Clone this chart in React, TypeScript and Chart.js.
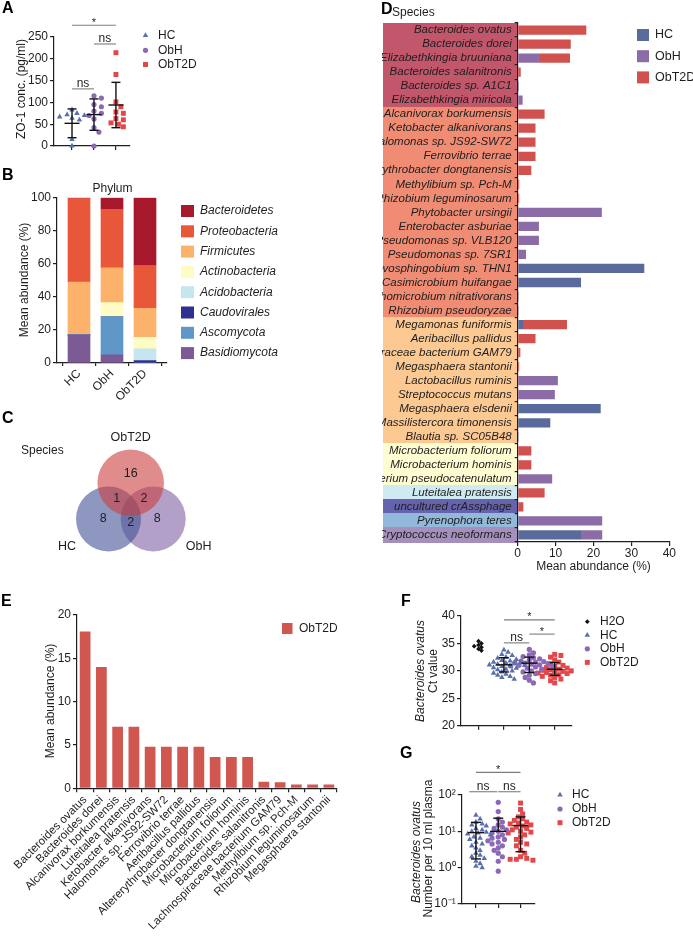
import React, { useEffect, useRef } from 'react';
import { Chart, registerables } from 'chart.js';

Chart.register(...registerables);

const FF = '"Liberation Sans", Arial, Helvetica, sans-serif';
const INK = '#1e1e1e';
const SIG = '#7d7d7d';

const COLORS: Record<string, string> = { H2O: '#111111', HC: '#5b6fae', ObH: '#8b69b6', ObT2D: '#e2474b' };
const SHAPES: Record<string, string> = { H2O: 'rectRot', HC: 'triangle', ObH: 'circle', ObT2D: 'rect' };
const RADII: Record<string, number> = { H2O: 2.4, HC: 3.2, ObH: 2.6, ObT2D: 3.5 };

// ---------------- Panel A ----------------
const aGroups = ['HC', 'ObH', 'ObT2D'];
const aHC = [0, 15, 60, 64, 67, 70, 72, 75, 83];
const aObH = [0, 32, 42, 62, 70, 75, 80, 90, 95, 110, 115];
const aObT2D = [44, 50, 53, 60, 63, 75, 78, 90, 101, 164, 214];
const aMean = [52, 72, 94];
const aLow = [19, 36, 42];
const aHigh = [85, 108, 146];
const aSig = [
  { from: 0, to: 2, y: 277, label: '*' },
  { from: 1, to: 2, y: 234, label: 'ns' },
  { from: 0, to: 1, y: 131, label: 'ns' },
];

// ---------------- Panel B ----------------
const bGroups = ['HC', 'ObH', 'ObT2D'];
const phyla = ['Bacteroidetes', 'Proteobacteria', 'Firmicutes', 'Actinobacteria', 'Acidobacteria', 'Caudovirales', 'Ascomycota', 'Basidiomycota'];
const phylaColors = ['#a8182c', '#e9573b', '#fcb26a', '#fefcc4', '#c5e5ef', '#2e3192', '#5e97c8', '#7b5a96'];
const phylaBand = ['#c2566b', '#f08c74', '#fdc993', '#fefdd2', '#d0eaf2', '#6563ad', '#92b8da', '#a58fbd'];
const bBacteroidetes = [0.5, 7, 41];
const bProteobacteria = [50.5, 35.5, 26];
const bFirmicutes = [32, 21, 17.5];
const bActinobacteria = [0, 8.5, 7];
const bAcidobacteria = [0, 0, 7];
const bCaudovirales = [0, 0, 1.5];
const bAscomycota = [0, 23, 0];
const bBasidiomycota = [17, 5, 0];
const bValues = [bBacteroidetes, bProteobacteria, bFirmicutes, bActinobacteria, bAcidobacteria, bCaudovirales, bAscomycota, bBasidiomycota];

// ---------------- Panel C ----------------
const vennSets = ['ObT2D', 'HC', 'ObH'];
const vennColors = ['rgba(203,63,63,0.6)', 'rgba(65,82,150,0.6)', 'rgba(128,97,165,0.6)'];
const vennX = [130.7, 108.5, 153.2];
const vennY = [102.7, 139, 139];
const vennR = [33.3, 32.5, 32.5];
const vennCounts = ['16', '8', '8', '1', '2', '2'];
const vennCountX = [130.7, 103.3, 157.3, 116.7, 144, 130.7];
const vennCountY = [93.3, 138.3, 138.3, 118.3, 118.3, 142.3];

// ---------------- Panel D ----------------
const dSpecies = [
  'Bacteroides ovatus', 'Bacteroides dorei', 'Elizabethkingia bruuniana', 'Bacteroides salanitronis', 'Bacteroides sp. A1C1', 'Elizabethkingia miricola',
  'Alcanivorax borkumensis', 'Ketobacter alkanivorans', 'Halomonas sp. JS92-SW72', 'Ferrovibrio terrae', 'Altererythrobacter dongtanensis', 'Methylibium sp. Pch-M',
  'Rhizobium leguminosarum', 'Phytobacter ursingii', 'Enterobacter asburiae', 'Pseudomonas sp. VLB120', 'Pseudomonas sp. 7SR1', 'Novosphingobium sp. THN1',
  'Casimicrobium huifangae', 'Hyphomicrobium nitrativorans', 'Rhizobium pseudoryzae',
  'Megamonas funiformis', 'Aeribacillus pallidus', 'Lachnospiraceae bacterium GAM79', 'Megasphaera stantonii', 'Lactobacillus ruminis', 'Streptococcus mutans',
  'Megasphaera elsdenii', 'Massilistercora timonensis', 'Blautia sp. SC05B48',
  'Microbacterium foliorum', 'Microbacterium hominis', 'Bifidobacterium pseudocatenulatum',
  'Luteitalea pratensis', 'uncultured crAssphage', 'Pyrenophora teres', 'Cryptococcus neoformans',
];
const dPhylum = [
  0, 0, 0, 0, 0, 0,
  1, 1, 1, 1, 1, 1, 1, 1, 1, 1, 1, 1, 1, 1, 1,
  2, 2, 2, 2, 2, 2, 2, 2, 2,
  3, 3, 3,
  4, 5, 6, 7,
];
const dHC = [0, 0, 0, 0, 0.3, 0, 0, 0, 0, 0, 0, 0, 0, 0, 0, 0, 0, 33.4, 16.7, 0.25, 0.25, 1.4, 0, 0, 0, 0, 0, 21.9, 8.6, 0.25, 0, 0, 0, 0, 0, 0, 16.7];
const dObH = [0, 0, 5.6, 0, 0, 1.3, 0, 0, 0, 0, 0, 0, 0, 22.2, 5.6, 5.6, 2.2, 0, 0, 0, 0, 0, 0, 0, 0, 10.6, 9.8, 0, 0, 0, 0, 0, 9.1, 0, 0, 22.3, 5.6];
const dObT2D = [18.1, 14.0, 8.2, 0.8, 0, 0, 7.1, 4.7, 4.7, 4.7, 3.6, 0.4, 0.4, 0, 0, 0, 0, 0, 0, 0, 0, 11.6, 4.7, 0.7, 0.4, 0, 0, 0, 0, 0, 3.6, 3.6, 0, 7.1, 1.5, 0, 0];
const dGroups = ['HC', 'ObH', 'ObT2D'];
const dColors = ['#5a6a9c', '#8b6ca7', '#d0514e'];
const dTicks = [0, 10, 20, 30, 40];

// ---------------- Panel E ----------------
const eSpecies = [
  'Bacteroides ovatus', 'Bacteroides dorei', 'Alcanivorax borkumensis', 'Luteitalea pratensis', 'Ketobacter alkanivorans', 'Halomonas sp. JS92-SW72',
  'Ferrovibrio terrae', 'Aeribacillus pallidus', 'Altererythrobacter dongtanensis', 'Microbacterium foliorum', 'Microbacterium hominis',
  'Bacteroides salanitronis', 'Lachnospiraceae bacterium GAM79', 'Methylibium sp. Pch-M', 'Rhizobium leguminosarum', 'Megasphaera stantonii',
];
const eValues = [18.1, 14.0, 7.1, 7.1, 4.8, 4.8, 4.8, 4.8, 3.6, 3.6, 3.6, 0.76, 0.7, 0.45, 0.45, 0.45];

// ---------------- Panel F ----------------
const fGroups = ['H2O', 'HC', 'ObH', 'ObT2D'];
const fH2O = [35.4, 35.0, 34.7, 34.5, 34.3, 34.0, 33.7];
const fHC = [33.8, 33.4, 33.0, 32.8, 32.5, 32.3, 32.1, 31.9, 31.8, 31.6, 31.5, 31.4, 31.3, 31.2, 31.1, 31.0, 30.9, 30.8, 30.6, 30.5, 30.3, 30.2, 30.0, 29.8, 29.6, 29.4, 29.2, 29.0, 28.8, 28.5];
const fObH = [33.9, 33.3, 32.9, 32.6, 32.4, 32.2, 32.0, 31.8, 31.7, 31.6, 31.5, 31.4, 31.3, 31.2, 31.1, 31.0, 30.9, 30.8, 30.7, 30.5, 30.3, 30.0, 29.8, 29.5, 29.2, 28.8, 28.3, 27.8];
const fObT2D = [33.0, 32.8, 32.5, 32.0, 31.6, 31.3, 31.0, 30.8, 30.6, 30.5, 30.3, 30.2, 30.1, 30.0, 29.9, 29.8, 29.7, 29.6, 29.5, 29.3, 29.2, 29.0, 28.8, 28.5, 28.2, 27.8];
const fMean = [null, 31.1, 31.4, 30.3];
const fLow = [null, 29.8, 29.7, 29.2];
const fHigh = [null, 32.4, 32.5, 31.5];
const fSig = [
  { from: 1, to: 3, y: 39.3, label: '*' },
  { from: 2, to: 3, y: 36.7, label: '*' },
  { from: 1, to: 2, y: 35.1, label: 'ns' },
];

// ---------------- Panel G ----------------
const gGroups = ['HC', 'ObH', 'ObT2D'];
const gHC = [28, 22, 18, 16, 15, 14, 12, 11, 10, 9.5, 9, 8.5, 8, 7, 6.5, 6, 5, 4.5, 4, 3.5, 3, 2.5, 2.2, 2, 1.8, 1.5, 1.3, 1.1, 1.0];
const gObH = [63, 35, 22, 18, 15, 13, 12, 11, 10, 9, 8, 7, 6.5, 6, 5.5, 5, 4.5, 4, 3.5, 3, 2.5, 2, 1.5, 0.8];
const gObT2D = [60, 40, 30, 25, 22, 20, 18, 17, 16, 15, 14, 13, 12, 11, 10, 9.5, 9, 8, 7, 6, 5, 4.5, 4, 3, 2.5, 2, 1.8, 1.7, 1.7, 1.6];
const gMean = [9.2, 10, 14.4];
const gLow = [1.74, null, 2.75];
const gHigh = [17.7, 23, 25];
const gSig = [
  { from: 0, to: 2, y: 420, label: '*' },
  { from: -0.3, to: 0.95, y: 123, label: 'ns' },
  { from: 1, to: 2, y: 123, label: 'ns' },
];
const gTickLabels = ['10\u207B\u00B9', '10\u2070', '10\u00B9', '10\u00B2'];

// ================= helpers =================
type Box = { l: number; t: number; w: number; h: number };
type Area = { l: number; t: number; r: number; b: number };

const padFor = (box: Box, area: Area) => ({ left: 0, top: area.t - box.t, right: box.l + box.w - area.r, bottom: 0 });
const fixW = (box: Box, area: Area) => (s: any) => { s.width = area.l - box.l; };
const fixH = (box: Box, area: Area) => (s: any) => { s.height = box.t + box.h - area.b; };
const axisGrid = (tl: number) => ({ display: true, drawOnChartArea: false, drawTicks: true, tickLength: tl, color: INK, lineWidth: 1.2 });
const axisBorder = { display: true, color: INK, width: 1.2 };
const fnt = (size = 12, style = 'normal') => ({ family: FF, size, style, lineHeight: 1.15 });

function T(ctx: CanvasRenderingContext2D, s: string, x: number, y: number, size: number, o: any = {}) {
  ctx.save();
  ctx.font = `${o.italic ? 'italic ' : ''}${o.bold ? 'bold ' : ''}${size}px ${FF}`;
  ctx.fillStyle = o.color || INK;
  ctx.textAlign = o.align || 'left';
  ctx.textBaseline = o.baseline || 'middle';
  ctx.translate(x, y);
  if (o.rot) ctx.rotate(o.rot);
  ctx.fillText(s, 0, 0);
  ctx.restore();
}

function shape(ctx: CanvasRenderingContext2D, style: string, x: number, y: number, r: number, color: string) {
  ctx.save();
  ctx.fillStyle = color;
  ctx.beginPath();
  if (style === 'circle') ctx.arc(x, y, r, 0, Math.PI * 2);
  else if (style === 'triangle') {
    ctx.moveTo(x, y - r); ctx.lineTo(x + 0.866 * r, y + 0.5 * r); ctx.lineTo(x - 0.866 * r, y + 0.5 * r); ctx.closePath();
  } else if (style === 'rect') {
    const s = r * Math.SQRT1_2; ctx.rect(x - s, y - s, 2 * s, 2 * s);
  } else {
    ctx.moveTo(x, y - r); ctx.lineTo(x + r, y); ctx.lineTo(x, y + r); ctx.lineTo(x - r, y); ctx.closePath();
  }
  ctx.fill();
  ctx.restore();
}

function seg(ctx: CanvasRenderingContext2D, x1: number, y1: number, x2: number, y2: number) {
  ctx.beginPath(); ctx.moveTo(x1, y1); ctx.lineTo(x2, y2); ctx.stroke();
}

// beeswarm layout: horizontal offsets (in category units) so markers don't overlap
function swarm(vals: number[], pxOf: (v: number) => number, pxPerCat: number, d: number): number[] {
  const order = vals.map((_, i) => i).sort((a, b) => pxOf(vals[a]) - pxOf(vals[b]));
  const placed: [number, number][] = [];
  const out = new Array(vals.length).fill(0);
  for (const i of order) {
    const y = pxOf(vals[i]);
    let x = 0;
    for (let k = 0; k < 80; k++) {
      const cand = k === 0 ? 0 : (k % 2 ? 1 : -1) * Math.ceil(k / 2) * d * 0.45;
      if (placed.every(([px, py]) => Math.hypot(px - cand, py - y) >= d)) { x = cand; break; }
    }
    placed.push([x, y]);
    out[i] = x / pxPerCat;
  }
  return out;
}

function legendMarkers(ctx: CanvasRenderingContext2D, groups: string[], mx: number, tx: number, ys: number[]) {
  groups.forEach((g, i) => {
    shape(ctx, SHAPES[g], mx, ys[i], RADII[g], COLORS[g]);
    T(ctx, g, tx, ys[i], 12);
  });
}

function scatterCfg(p: any) {
  const { box, area, groups, values, xMin, xMax, yOpts, pxOf, pxPerCat, d, mean, low, high, sig, capW, meanW, extra } = p;
  const offs = values.map((v: number[], gi: number) => swarm(v, pxOf, pxPerCat, groups[gi] === 'H2O' ? 3.2 : d));
  return {
    type: 'scatter',
    data: {
      datasets: groups.map((g: string, gi: number) => ({
        label: g,
        data: values[gi].map((v: number, k: number) => ({ x: gi + offs[gi][k], y: v })),
        pointStyle: SHAPES[g],
        pointRadius: RADII[g],
        pointHoverRadius: RADII[g],
        backgroundColor: COLORS[g],
        borderWidth: 0,
        clip: false,
      })),
    },
    options: {
      responsive: false, animation: false, devicePixelRatio: 1, events: [],
      layout: { padding: padFor(box, area), autoPadding: false },
      plugins: { legend: { display: false }, tooltip: { enabled: false } },
      scales: {
        x: {
          type: 'linear', min: xMin, max: xMax,
          afterFit: fixH(box, area),
          afterBuildTicks: (s: any) => { s.ticks = groups.map((_: string, i: number) => ({ value: i })); },
          ticks: { callback: () => '', autoSkip: false, font: fnt(12) },
          grid: axisGrid(4), border: axisBorder,
        },
        y: {
          ...yOpts,
          afterFit: fixW(box, area),
          grid: axisGrid(4), border: axisBorder,
        },
      },
    },
    plugins: [{
      id: 'overlay',
      afterDatasetsDraw(chart: any) {
        const ctx = chart.ctx as CanvasRenderingContext2D;
        const x = chart.scales.x, y = chart.scales.y;
        ctx.save();
        ctx.strokeStyle = '#111'; ctx.lineWidth = 1.4;
        groups.forEach((_: string, gi: number) => {
          if (mean[gi] == null) return;
          const cx = x.getPixelForValue(gi);
          const my = y.getPixelForValue(mean[gi]);
          const hy = y.getPixelForValue(high[gi]);
          const ly = low[gi] != null ? y.getPixelForValue(low[gi]) : my;
          seg(ctx, cx - meanW, my, cx + meanW, my);
          seg(ctx, cx, hy, cx, ly);
          seg(ctx, cx - capW, hy, cx + capW, hy);
          if (low[gi] != null) seg(ctx, cx - capW, ly, cx + capW, ly);
        });
        ctx.strokeStyle = SIG; ctx.lineWidth = 1.1;
        sig.forEach((s: any) => {
          const x1 = x.getPixelForValue(s.from), x2 = x.getPixelForValue(s.to), yy = y.getPixelForValue(s.y);
          seg(ctx, x1, yy, x2, yy);
          if (s.label === '*') T(ctx, '*', (x1 + x2) / 2, yy + 0.5, 11, { align: 'center', baseline: 'alphabetic' });
          else T(ctx, s.label, (x1 + x2) / 2, yy - 2, 12, { align: 'center', baseline: 'alphabetic' });
        });
        ctx.translate(-box.l, -box.t);
        extra(ctx);
        ctx.restore();
      },
    }],
  };
}

// ================= configs =================
function cfgA() {
  const box = { l: 0, t: 0, w: 230, h: 165 };
  const area = { l: 54, t: 37, r: 130, b: 146 };
  return scatterCfg({
    box, area, groups: aGroups, values: [aHC, aObH, aObT2D], xMin: -0.82, xMax: 2.64,
    yOpts: { type: 'linear', min: 0, max: 250, ticks: { stepSize: 50, font: fnt(12), color: INK, padding: 2 } },
    pxOf: (v: number) => -v * 109 / 250, pxPerCat: 22, d: 5.5,
    mean: aMean, low: aLow, high: aHigh, sig: aSig, capW: 4.5, meanW: 7.5,
    extra: (ctx: CanvasRenderingContext2D) => {
      T(ctx, 'ZO-1 conc. (pg/ml)', 21.5, 89, 12, { align: 'center', rot: -Math.PI / 2 });
      legendMarkers(ctx, aGroups, 145.5, 158, [35.5, 50.3, 64.5]);
    },
  });
}

function cfgB() {
  const box = { l: 0, t: 165, w: 300, h: 245 };
  const area = { l: 57, t: 197.7, r: 167, b: 363 };
  const datasets = phyla.map((name, i) => ({
    label: name,
    data: bValues[i].map((v, k) => ({ x: k, y: v })),
    backgroundColor: phylaColors[i],
    borderWidth: 0,
    barThickness: 22,
  })).reverse();
  return {
    type: 'bar',
    data: { datasets },
    options: {
      responsive: false, animation: false, devicePixelRatio: 1, events: [],
      layout: { padding: padFor(box, area), autoPadding: false },
      plugins: { legend: { display: false }, tooltip: { enabled: false } },
      scales: {
        x: {
          type: 'linear', stacked: true, min: -0.667, max: 2.667, offset: false,
          afterFit: fixH(box, area),
          afterBuildTicks: (s: any) => { s.ticks = bGroups.map((_, i) => ({ value: i })); },
          ticks: { callback: (_v: any, i: number) => bGroups[i], autoSkip: false, minRotation: 45, maxRotation: 45, font: fnt(12), color: INK, padding: 1 },
          grid: axisGrid(3), border: axisBorder,
        },
        y: {
          type: 'linear', stacked: true, min: 0, max: 100,
          afterFit: fixW(box, area),
          ticks: { stepSize: 20, font: fnt(12), color: INK, padding: 2 },
          grid: axisGrid(4), border: axisBorder,
        },
      },
    },
    plugins: [{
      id: 'overlayB',
      afterDraw(chart: any) {
        const ctx = chart.ctx as CanvasRenderingContext2D;
        ctx.save();
        ctx.translate(-box.l, -box.t);
        T(ctx, 'Phylum', 112.5, 189, 12, { align: 'center' });
        T(ctx, 'Mean abundance (%)', 25, 280, 12, { align: 'center', rot: -Math.PI / 2 });
        phyla.forEach((name, i) => {
          const yc = 211 + i * 20.3;
          ctx.fillStyle = phylaColors[i];
          ctx.fillRect(181, yc - 6, 13, 12);
          T(ctx, name, 200, yc, 12, { italic: true });
        });
        ctx.restore();
      },
    }],
  };
}

function cfgC() {
  return {
    type: 'bubble',
    data: {
      datasets: vennSets.map((name, i) => ({
        label: name,
        data: [{ x: vennX[i], y: vennY[i], r: vennR[i] }],
        backgroundColor: vennColors[i],
        borderWidth: 0,
        hoverRadius: 0,
        clip: false,
      })),
    },
    options: {
      responsive: false, animation: false, devicePixelRatio: 1, events: [],
      layout: { padding: 0, autoPadding: false },
      plugins: { legend: { display: false }, tooltip: { enabled: false } },
      scales: {
        x: { type: 'linear', min: 0, max: 230, display: false },
        y: { type: 'linear', min: 0, max: 200, reverse: true, display: false },
      },
    },
    plugins: [{
      id: 'overlayC',
      afterDatasetsDraw(chart: any) {
        const ctx = chart.ctx as CanvasRenderingContext2D;
        const x = chart.scales.x, y = chart.scales.y;
        vennCounts.forEach((c, i) => {
          T(ctx, c, x.getPixelForValue(vennCountX[i]), y.getPixelForValue(vennCountY[i]), 12.5, { align: 'center' });
        });
        T(ctx, 'Species', 21, 71, 12);
        T(ctx, 'ObT2D', x.getPixelForValue(vennX[0]), 58, 12.5, { align: 'center' });
        T(ctx, 'HC', 67, 167, 12.5, { align: 'center' });
        T(ctx, 'ObH', 198.7, 167, 12.5, { align: 'center' });
      },
    }],
  };
}

function cfgD() {
  const box = { l: 382, t: 0, w: 311, h: 582 };
  const area = { l: 517.7, t: 23, r: 669.3, b: 542 };
  return {
    type: 'bar',
    data: {
      labels: dSpecies,
      datasets: [dHC, dObH, dObT2D].map((vals, i) => ({
        label: dGroups[i], data: vals, backgroundColor: dColors[i], borderWidth: 0,
        barPercentage: 0.66, categoryPercentage: 1,
      })),
    },
    options: {
      indexAxis: 'y',
      responsive: false, animation: false, devicePixelRatio: 1, events: [],
      layout: { padding: padFor(box, area), autoPadding: false },
      plugins: { legend: { display: false }, tooltip: { enabled: false } },
      scales: {
        x: {
          type: 'linear', stacked: true, min: 0, max: 40,
          afterFit: fixH(box, area),
          afterBuildTicks: (s: any) => { s.ticks = dTicks.map((v) => ({ value: v })); },
          ticks: { font: fnt(12), color: INK, padding: 1 },
          grid: axisGrid(4), border: axisBorder,
        },
        y: {
          type: 'category', stacked: true,
          afterFit: fixW(box, area),
          ticks: { autoSkip: false, font: fnt(11.5, 'italic'), color: INK, padding: 3 },
          grid: axisGrid(3), border: axisBorder,
        },
      },
    },
    plugins: [{
      id: 'bandsD',
      beforeDraw(chart: any) {
        const ctx = chart.ctx as CanvasRenderingContext2D;
        const y = chart.scales.y;
        const half = (y.getPixelForValue(1) - y.getPixelForValue(0)) / 2;
        ctx.save();
        dPhylum.forEach((ph, i) => {
          const yc = y.getPixelForValue(i);
          ctx.fillStyle = phylaBand[ph];
          ctx.fillRect(1, Math.floor(yc - half), chart.chartArea.left - 1, Math.ceil(2 * half) + 1);
        });
        ctx.restore();
      },
      afterDraw(chart: any) {
        const ctx = chart.ctx as CanvasRenderingContext2D;
        ctx.save();
        ctx.translate(-box.l, -box.t);
        T(ctx, 'Species', 392, 13, 12);
        T(ctx, 'Mean abundance (%)', 593.5, 567, 12, { align: 'center' });
        dGroups.forEach((g, i) => {
          const yc = 35 + i * 21.2;
          ctx.fillStyle = dColors[i];
          ctx.fillRect(637, yc - 6, 12, 12);
          T(ctx, g, 655, yc, 12.5);
        });
        ctx.restore();
      },
    }],
  };
}

function cfgE() {
  const box = { l: 0, t: 585, w: 400, h: 352 };
  const area = { l: 77, t: 615, r: 337, b: 788.3 };
  return {
    type: 'bar',
    data: {
      labels: eSpecies,
      datasets: [{ label: 'ObT2D', data: eValues, backgroundColor: '#d0574f', borderWidth: 0, barPercentage: 0.66, categoryPercentage: 1 }],
    },
    options: {
      responsive: false, animation: false, devicePixelRatio: 1, events: [],
      layout: { padding: padFor(box, area), autoPadding: false },
      plugins: { legend: { display: false }, tooltip: { enabled: false } },
      scales: {
        x: {
          type: 'category',
          afterFit: fixH(box, area),
          ticks: { autoSkip: false, minRotation: 45, maxRotation: 45, font: fnt(11.5), color: INK, padding: 1 },
          grid: axisGrid(4), border: axisBorder,
        },
        y: {
          type: 'linear', min: 0, max: 20,
          afterFit: fixW(box, area),
          ticks: { stepSize: 5, font: fnt(12), color: INK, padding: 2 },
          grid: axisGrid(4), border: axisBorder,
        },
      },
    },
    plugins: [{
      id: 'overlayE',
      afterDraw(chart: any) {
        const ctx = chart.ctx as CanvasRenderingContext2D;
        ctx.save();
        ctx.translate(-box.l, -box.t);
        T(ctx, 'Mean abundance (%)', 50.5, 701, 12, { align: 'center', rot: -Math.PI / 2 });
        ctx.fillStyle = '#d0574f';
        ctx.fillRect(282, 623, 10.5, 11);
        T(ctx, 'ObT2D', 299, 629, 12);
        ctx.restore();
      },
    }],
  };
}

function cfgF() {
  const box = { l: 400, t: 585, w: 293, h: 160 };
  const area = { l: 461, t: 616, r: 571.7, b: 725.7 };
  return scatterCfg({
    box, area, groups: fGroups, values: [fH2O, fHC, fObH, fObT2D], xMin: -0.69, xMax: 3.67,
    yOpts: { type: 'linear', min: 20, max: 40, ticks: { stepSize: 5, font: fnt(12), color: INK, padding: 2 } },
    pxOf: (v: number) => -v * 5.48, pxPerCat: 25.4, d: 4.6,
    mean: fMean, low: fLow, high: fHigh, sig: fSig, capW: 5, meanW: 8,
    extra: (ctx: CanvasRenderingContext2D) => {
      T(ctx, 'Bacteroides ovatus', 420.5, 671, 12, { align: 'center', rot: -Math.PI / 2, italic: true });
      T(ctx, 'Ct value', 434, 671, 12, { align: 'center', rot: -Math.PI / 2 });
      legendMarkers(ctx, fGroups, 587.3, 600, [621.7, 635.2, 648.8, 662.4]);
    },
  });
}

function cfgG() {
  const box = { l: 400, t: 745, w: 293, h: 192 };
  const area = { l: 461.7, t: 795, r: 535, b: 904 };
  return scatterCfg({
    box, area, groups: gGroups, values: [gHC, gObH, gObT2D], xMin: -0.64, xMax: 2.65,
    yOpts: {
      type: 'logarithmic', min: 0.1, max: 100,
      afterBuildTicks: (s: any) => { s.ticks = [0.1, 1, 10, 100].map((v) => ({ value: v, major: true })); },
      ticks: { callback: (_v: any, i: number) => gTickLabels[i], font: fnt(12), color: INK, padding: 2, autoSkip: false },
    },
    pxOf: (v: number) => -Math.log10(v) * 36.3, pxPerCat: 22.3, d: 4.6,
    mean: gMean, low: gLow, high: gHigh, sig: gSig, capW: 5, meanW: 8,
    extra: (ctx: CanvasRenderingContext2D) => {
      T(ctx, 'Bacteroides ovatus', 416.5, 852, 12, { align: 'center', rot: -Math.PI / 2, italic: true });
      T(ctx, 'Number per 10 ml plasma', 429, 848.5, 12, { align: 'center', rot: -Math.PI / 2 });
      legendMarkers(ctx, gGroups, 560, 572, [795, 809, 822.7]);
    },
  });
}

// ================= components =================
function ChartCanvas({ box, make }: { box: Box; make: () => any }) {
  const ref = useRef<HTMLCanvasElement>(null);
  useEffect(() => {
    const chart = new Chart(ref.current as HTMLCanvasElement, make());
    return () => chart.destroy();
  }, []);
  return (
    <canvas
      ref={ref}
      width={box.w}
      height={box.h}
      style={{ position: 'absolute', left: box.l, top: box.t, width: box.w, height: box.h }}
    />
  );
}

const letterStyle = (l: number, t: number): React.CSSProperties => ({
  position: 'absolute', left: l, top: t, fontFamily: FF, fontWeight: 'bold', fontSize: 16, lineHeight: '16px', color: '#000',
});

export default function App() {
  return (
    <div style={{ position: 'absolute', left: 0, top: 0, width: 693, height: 937, background: '#fff', overflow: 'hidden' }}>
      <ChartCanvas box={{ l: 0, t: 380, w: 230, h: 200 }} make={cfgC} />
      <ChartCanvas box={{ l: 0, t: 0, w: 230, h: 165 }} make={cfgA} />
      <ChartCanvas box={{ l: 0, t: 165, w: 300, h: 245 }} make={cfgB} />
      <ChartCanvas box={{ l: 382, t: 0, w: 311, h: 582 }} make={cfgD} />
      <ChartCanvas box={{ l: 0, t: 585, w: 400, h: 352 }} make={cfgE} />
      <ChartCanvas box={{ l: 400, t: 585, w: 293, h: 160 }} make={cfgF} />
      <ChartCanvas box={{ l: 400, t: 745, w: 293, h: 192 }} make={cfgG} />
      <div style={letterStyle(2, 0)}>A</div>
      <div style={letterStyle(2, 167)}>B</div>
      <div style={letterStyle(2, 410)}>C</div>
      <div style={letterStyle(381, 1)}>D</div>
      <div style={letterStyle(1, 593)}>E</div>
      <div style={letterStyle(401, 593)}>F</div>
      <div style={letterStyle(400, 745)}>G</div>
    </div>
  );
}
